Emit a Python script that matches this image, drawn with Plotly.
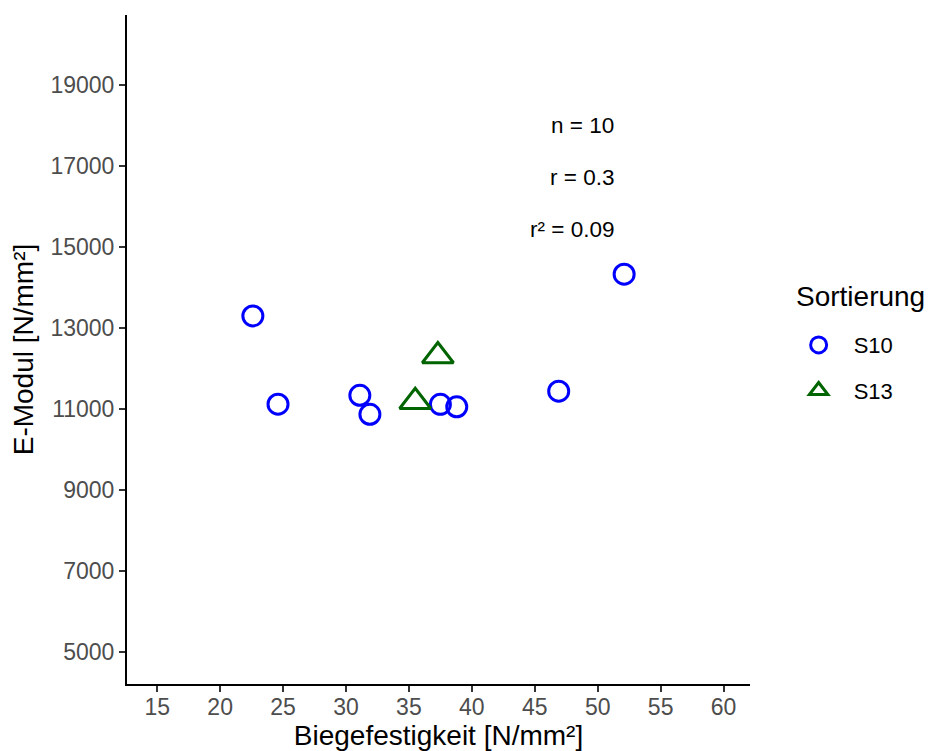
import plotly.graph_objects as go

# Data
s10_x = [22.6, 24.6, 31.1, 31.9, 37.5, 38.8, 46.9, 52.1]
s10_y = [13300, 11120, 11340, 10870, 11115, 11055, 11440, 14330]
s13_x = [35.5, 37.3]
s13_y = [11180, 12310]
series_names = ["S10", "S13"]
legend_title = "Sortierung"
stat_labels = ["n = 10", "r = 0.3", "r² = 0.09"]
stat_y = [18000, 16720, 15430]
x_ticks = [15, 20, 25, 30, 35, 40, 45, 50, 55, 60]
y_ticks = [5000, 7000, 9000, 11000, 13000, 15000, 17000, 19000]

FONT = "Liberation Sans, Arial, sans-serif"

fig = go.Figure()
fig.add_trace(go.Scatter(
    x=s10_x, y=s10_y, mode="markers", name=series_names[0], legendgroup="g1",
    marker=dict(symbol="circle-open", size=20, color="#0000FF",
                line=dict(width=3, color="#0000FF")),
))
fig.add_trace(go.Scatter(
    x=s13_x, y=s13_y, mode="markers", name=series_names[1], legendgroup="g2",
    marker=dict(symbol="triangle-up-open", size=27, color="#006400",
                line=dict(width=3, color="#006400")),
))

for txt, yv in zip(stat_labels, stat_y):
    fig.add_annotation(x=51.45, y=yv, text=txt, showarrow=False,
                       xanchor="right", yanchor="middle",
                       font=dict(family=FONT, size=22.5, color="black"))

# legend title drawn as a text annotation so the item spacing can match
fig.add_annotation(x=1.071, y=0.5785, xref="paper", yref="paper", text=legend_title,
                   showarrow=False, xanchor="left", yanchor="middle",
                   font=dict(family=FONT, size=28, color="black"))

axis_common = dict(
    showgrid=False, zeroline=False, showline=True, linecolor="black", linewidth=2,
    ticks="outside", ticklen=6, tickwidth=2, tickcolor="#333333",
    tickfont=dict(family=FONT, size=23, color="#4D4D4D"), automargin=False,
)

fig.update_layout(
    width=925, height=743,
    margin=dict(l=119, r=183, t=7, b=67, autoexpand=False),
    paper_bgcolor="white", plot_bgcolor="white",
    font=dict(family=FONT, color="black"),
    xaxis=dict(range=[12.6, 62.1], tickvals=x_ticks, ticklabelstandoff=-5,
               title=dict(text="Biegefestigkeit [N/mm²]", font=dict(family=FONT, size=28), standoff=12),
               **axis_common),
    yaxis=dict(range=[4210, 20730], tickvals=y_ticks, tickformat="d",
               title=dict(text="E-Modul [N/mm²]", font=dict(family=FONT, size=28), standoff=13),
               **axis_common),
    legend=dict(
        font=dict(family=FONT, size=22),
        x=1.054, xanchor="left", y=0.538, yanchor="top",
        bgcolor="rgba(0,0,0,0)", itemsizing="trace", tracegroupgap=14,
        itemwidth=60,
    ),
)

fig.write_html("out.html")
